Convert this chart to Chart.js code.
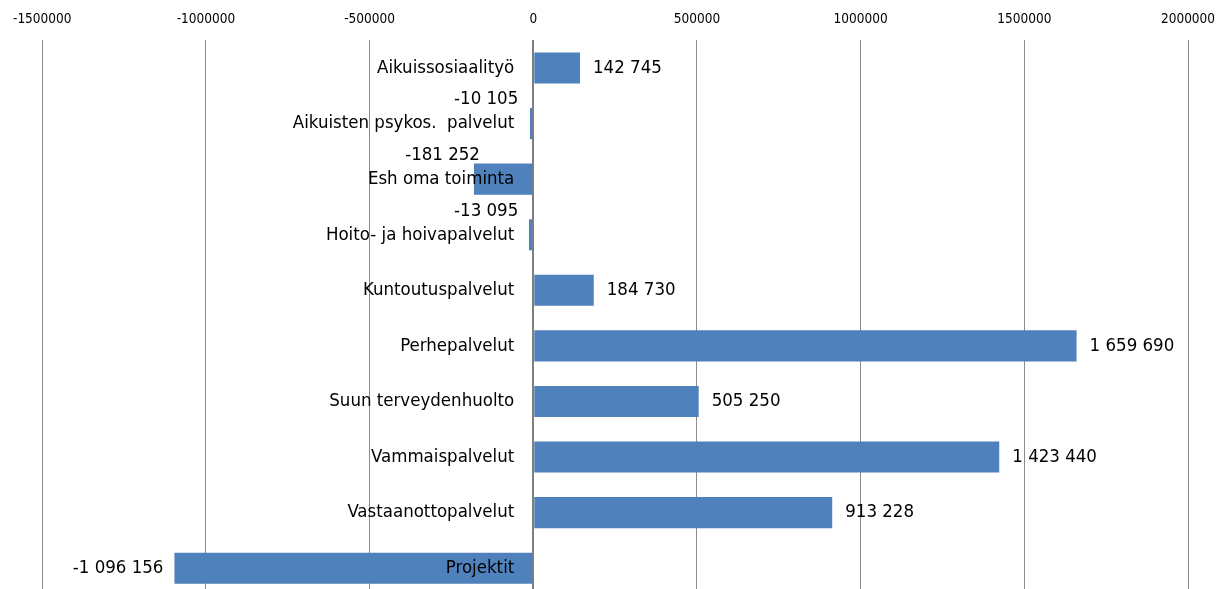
<!DOCTYPE html>
<html>
<head>
<meta charset="utf-8">
<script src="https://cdn.jsdelivr.net/npm/chart.js@4"></script>
<style>
  html, body { margin: 0; padding: 0; background: #fff; overflow: hidden; }
  #wrap { width: 1230px; height: 596px; position: relative; }
</style>
</head>
<body>
<div id="wrap"><canvas id="costChart"></canvas></div>
<script>
// yksiköt ja erotukset
const categories = [
  'Aikuissosiaalityö',
  'Aikuisten psykos.  palvelut',
  'Esh oma toiminta',
  'Hoito- ja hoivapalvelut',
  'Kuntoutuspalvelut',
  'Perhepalvelut',
  'Suun terveydenhuolto',
  'Vammaispalvelut',
  'Vastaanottopalvelut',
  'Projektit'
];
const values = [142745, -10105, -181252, -13095, 184730, 1659690, 505250, 1423440, 913228, -1096156];
const xTicks = [-1500000, -1000000, -500000, 0, 500000, 1000000, 1500000, 2000000];

const FONT = "'Liberation Sans Narrow', 'DejaVu Sans Condensed', 'Liberation Sans', sans-serif";

// tuhaterotin välilyönnillä
const fmt = v => {
  const s = Math.abs(v).toString().replace(/\B(?=(\d{3})+(?!\d))/g, ' ');
  return (v < 0 ? '-' : '') + s;
};

// nimet ja arvot piirretään itse nollaviivan viereen
const labelPlugin = {
  id: 'barLabels',
  afterDatasetsDraw(chart) {
    const { ctx } = chart;
    const xs = chart.scales.x;
    const ys = chart.scales.y;
    const zero = xs.getPixelForValue(0);
    ctx.save();
    ctx.font = '18.5px ' + FONT;
    ctx.fillStyle = '#000';
    ctx.textBaseline = 'middle';
    categories.forEach((name, i) => {
      const y = ys.getPixelForValue(i);
      const v = values[i];
      const end = xs.getPixelForValue(v);
      ctx.textAlign = 'right';
      ctx.fillText(name, zero - 19, y);
      if (v >= 0) {
        ctx.textAlign = 'left';
        ctx.fillText(fmt(v), end + 13, y);
      } else if (Math.abs(v) < 500000) {
        ctx.textAlign = 'right';
        ctx.fillText(fmt(v), Math.min(end + 6, zero - 15), y - 24);
      } else {
        ctx.textAlign = 'right';
        ctx.fillText(fmt(v), end - 11, y);
      }
    });
    ctx.restore();
  }
};

new Chart(document.getElementById('costChart'), {
  type: 'bar',
  data: {
    labels: categories,
    datasets: [{
      data: values,
      backgroundColor: '#4F81BD',
      borderWidth: 0,
      barPercentage: 0.56,
      categoryPercentage: 1
    }]
  },
  options: {
    indexAxis: 'y',
    responsive: true,
    maintainAspectRatio: false,
    animation: false,
    layout: { padding: { left: 39, right: 42, top: -2, bottom: 0 } },
    plugins: { legend: { display: false }, tooltip: { enabled: false } },
    scales: {
      x: {
        position: 'top',
        min: -1500000,
        max: 2000000,
        afterBuildTicks: s => { s.ticks = xTicks.map(v => ({ value: v })); },
        ticks: {
          padding: 13,
          color: '#000',
          font: { family: FONT, size: 13.5 },
          maxRotation: 0,
          callback: v => String(v)
        },
        grid: {
          drawTicks: false,
          color: ctx => ctx.tick && ctx.tick.value === 0 ? '#7f7f7f' : '#8c8c8c',
          lineWidth: ctx => ctx.tick && ctx.tick.value === 0 ? 2 : 1
        },
        border: { display: false }
      },
      y: {
        display: false,
        grid: { display: false }
      }
    }
  },
  plugins: [labelPlugin]
});
</script>
</body>
</html>
